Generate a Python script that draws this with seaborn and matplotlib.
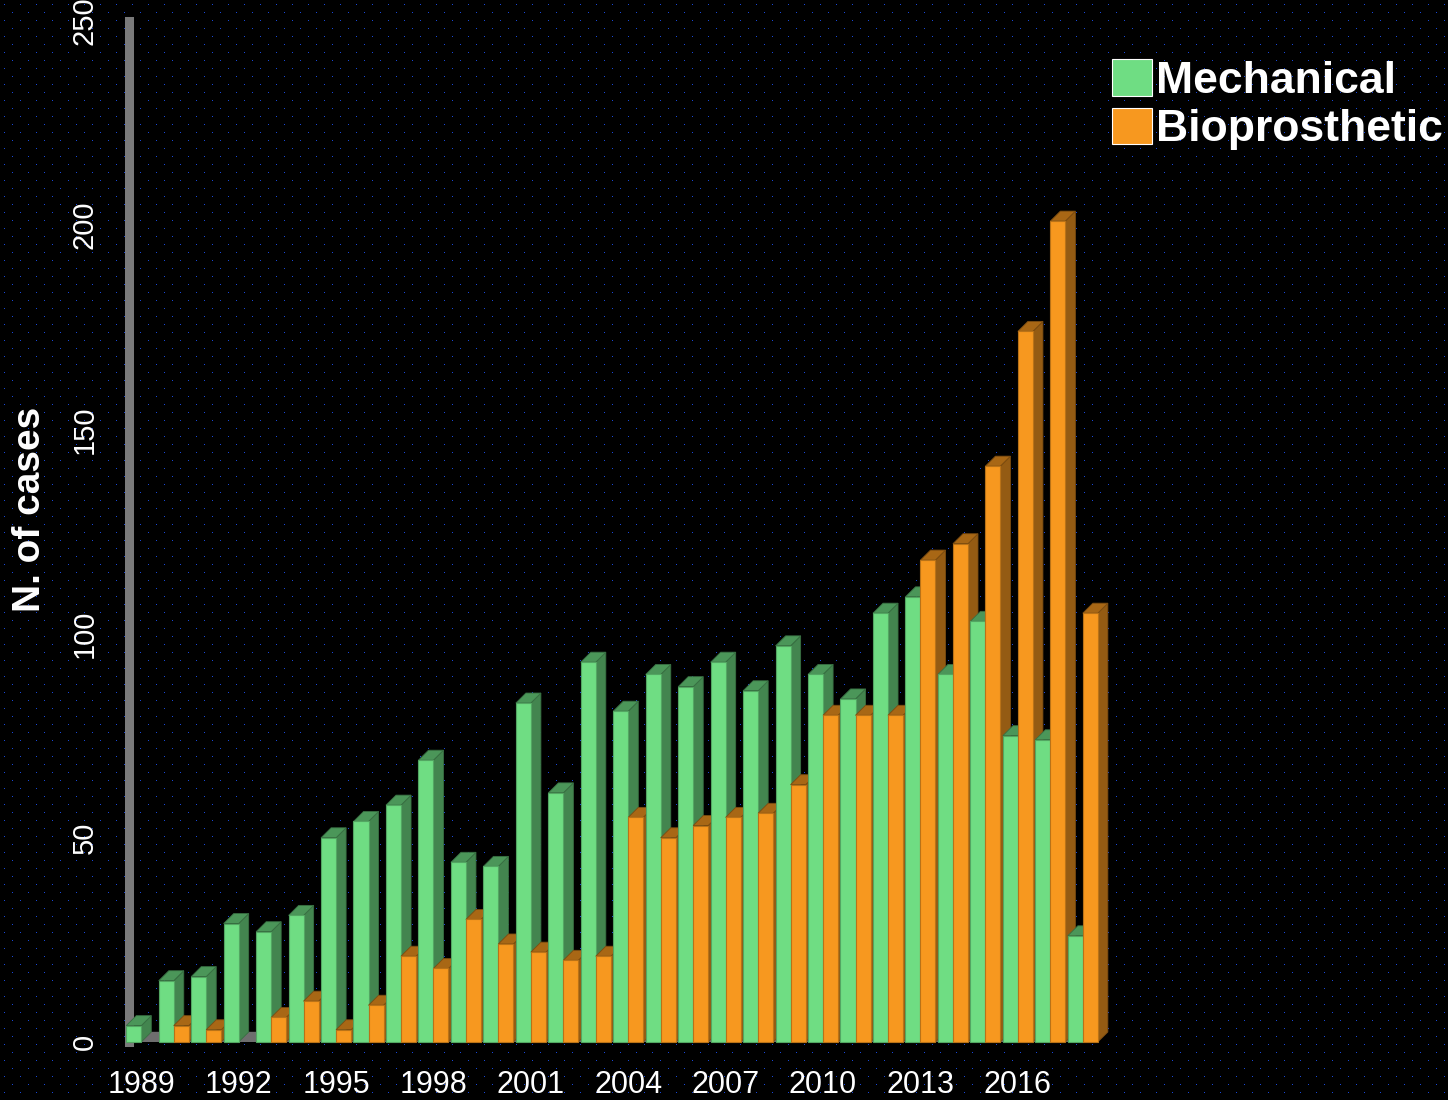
import matplotlib
matplotlib.use("Agg")
import matplotlib.pyplot as plt
from matplotlib.colors import to_rgb
from matplotlib.patches import Polygon
import numpy as np
import pandas as pd
import seaborn as sns

years = list(range(1989, 2019))
mechanical = [4, 15, 16, 29, 27, 31, 50, 54, 58, 69, 44, 43, 83, 61, 93,
              81, 90, 87, 93, 86, 97, 90, 84, 105, 109, 90, 103, 75, 74, 26]
bioprosthetic = [0, 4, 3, 0, 6, 10, 3, 9, 21, 18, 30, 24, 22, 20, 21,
                 55, 50, 53, 55, 56, 63, 80, 80, 80, 118, 122, 141, 174, 201, 105]
series = ["Mechanical", "Bioprosthetic"]
colors = ["#6FDD83", "#F7981F"]
x_tick_labels = ["1989", "1992", "1995", "1998", "2001", "2004", "2007", "2010", "2013", "2016"]
y_ticks = [0, 50, 100, 150, 200, 250]

sns.set_theme(style="white")
plt.rcParams["font.family"] = ["Liberation Sans", "DejaVu Sans"]

df = pd.DataFrame({
    "year": years * 2,
    "cases": mechanical + bioprosthetic,
    "type": [series[0]] * len(years) + [series[1]] * len(years),
})

W, H, DPI = 1448, 1100, 100
fig = plt.figure(figsize=(W / DPI, H / DPI), dpi=DPI, facecolor="black")

# dotted dark background
bg = fig.add_axes([0, 0, 1, 1], zorder=-10)
img = np.zeros((H, W, 3))
dot = np.array(to_rgb("#1848D8"))
for r in range(4, H, 8):
    off = 4 if (r // 8) % 2 == 0 else 12
    img[r, off::16] = dot
bg.imshow(img, interpolation="nearest", aspect="auto")
bg.set_axis_off()

ax = fig.add_axes([125 / W, 1 - 1042 / H, 974 / W, 1021 / H])
ax.set_facecolor("none")

sns.barplot(data=df, x="year", y="cases", hue="type", palette=colors,
            saturation=1, width=0.925, gap=0, linewidth=0.8, ax=ax)

ax.set_xlim(-0.5, len(years) - 0.5)
ax.set_ylim(0, 250)

# pseudo 3D depth for each bar
dx, dy = 0.31, 2.45
bars = sorted([p for p in ax.patches if p.get_height() > 0], key=lambda p: p.get_x())
for p in ax.patches:
    if p.get_height() <= 0:
        p.set_visible(False)
for i, p in enumerate(bars):
    x0, w, h = p.get_x(), p.get_width(), p.get_height()
    x1 = x0 + w
    fc = np.array(p.get_facecolor()[:3])
    z = 3 + i * 0.1
    p.set_zorder(z + 0.05)
    p.set_edgecolor(fc * 0.75)
    p.set_clip_on(False)
    side = Polygon([(x1, 0), (x1 + dx, dy), (x1 + dx, h + dy), (x1, h)],
                   closed=True, facecolor=fc * 0.6, edgecolor=fc * 0.5,
                   linewidth=0.6, zorder=z, clip_on=False)
    top = Polygon([(x0, h), (x0 + dx, h + dy), (x1 + dx, h + dy), (x1, h)],
                  closed=True, facecolor=fc * 0.68, edgecolor=fc * 0.5,
                  linewidth=0.6, zorder=z, clip_on=False)
    ax.add_patch(side)
    ax.add_patch(top)

# floor and left wall
ax.axhspan(0, dy, color="#6E6E6E", zorder=1)
for s in ["top", "right", "bottom"]:
    ax.spines[s].set_visible(False)
ax.spines["left"].set_color("#7A7A7A")
ax.spines["left"].set_linewidth(6.5)
ax.spines["left"].set_position(("outward", -3.2))

ax.set_xticks(range(0, len(years), 3))
ax.set_xticklabels(x_tick_labels)
ax.set_yticks(y_ticks)
ax.set_yticklabels([str(v) for v in y_ticks], rotation=90, va="center")
ax.tick_params(axis="x", length=0, pad=20, labelsize=22, colors="white")
ax.tick_params(axis="y", length=0, pad=22, labelsize=21, colors="white")

ax.set_xlabel("")
ax.set_ylabel("N. of cases", color="white", fontsize=28, fontweight="bold")
ax.yaxis.set_label_coords(-0.079, 0.522)

sns.move_legend(ax, "upper left", bbox_to_anchor=(1112 / W, 1 - 59 / H),
                bbox_transform=fig.transFigure, frameon=False, title=None,
                prop={"weight": "bold", "size": 32}, labelcolor="white",
                handlelength=0.9, handleheight=0.9, handletextpad=0.1,
                labelspacing=0.13, borderpad=0, borderaxespad=0)

fig.savefig("out.png", dpi=DPI, facecolor="black")
plt.close(fig)
